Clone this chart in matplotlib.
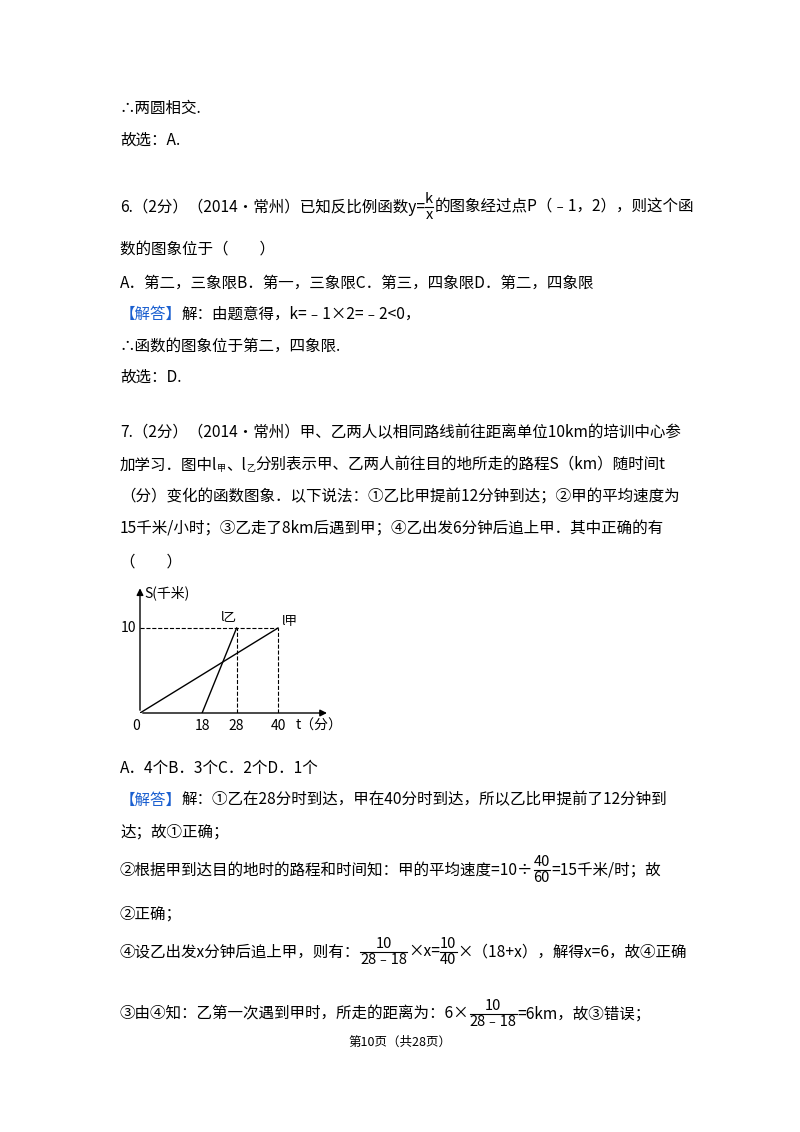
import matplotlib
matplotlib.use("Agg")
import matplotlib.pyplot as plt

plt.rcParams['font.family'] = ['Noto Sans CJK SC', 'DejaVu Sans']

# chart data
jia_t = [0, 40]; jia_s = [0, 10]
yi_t = [18, 28]; yi_s = [0, 10]
xticks = [18, 28, 40]
yticks = [10]

fig = plt.figure(figsize=(8, 11.32), dpi=100)
bg = fig.add_axes([0, 0, 1, 1])
bg.set_xlim(0, 800); bg.set_ylim(1132, 0); bg.axis('off')
fig.canvas.draw()
R = fig.canvas.get_renderer()
FS = 11.2
BLUE = '#1a5fd0'

def width(t, fs=FS):
    tt = bg.text(0, 0, t, fontsize=fs)
    w = tt.get_window_extent(R).width
    tt.remove()
    return w

def line(y, parts, x=120):
    for p in parts:
        if isinstance(p, tuple) and p[0] == 'frac':
            _, num, den = p
            fs = 10.5
            w = max(width(num, fs), width(den, fs))
            cx = x + w / 2
            bg.text(cx, y - 1, num, fontsize=fs, ha='center', va='bottom')
            bg.text(cx, y + 1, den, fontsize=fs, ha='center', va='top')
            bg.plot([x, x + w], [y, y], color='black', lw=0.8)
            x += w + 1
        elif isinstance(p, tuple) and p[0] == 'sub':
            bg.text(x, y + 4, p[1], fontsize=6.5, va='center')
            x += width(p[1], 6.5)
        else:
            col = 'black'
            if isinstance(p, tuple):
                p, col = p[1], p[0]
            bg.text(x, y, p, fontsize=FS, va='center', color=col)
            x += width(p)

line(108, ["∴两圆相交."])
line(140, ["故选：A."])
line(207, ["6.（2分）（2014•常州）已知反比例函数y=", ('frac', 'k', 'x'), "的图象经过点P（﹣1，2），则这个函"])
line(250, ["数的图象位于（　　）"])
line(283, ["A．第二，三象限B．第一，三象限C．第三，四象限D．第二，四象限"])
line(314, [(BLUE, "【解答】"), "解：由题意得，k=﹣1×2=﹣2<0，"])
line(346, ["∴函数的图象位于第二，四象限."])
line(377, ["故选：D."])
line(433, ["7.（2分）（2014•常州）甲、乙两人以相同路线前往距离单位10km的培训中心参"])
line(465, ["加学习．图中l", ('sub', "甲"), "、l", ('sub', "乙"), "分别表示甲、乙两人前往目的地所走的路程S（km）随时间t"])
line(497, ["（分）变化的函数图象．以下说法：①乙比甲提前12分钟到达；②甲的平均速度为"])
line(529, ["15千米/小时；③乙走了8km后遇到甲；④乙出发6分钟后追上甲．其中正确的有"])
line(562, ["（　　）"])
line(768, ["A．4个B．3个C．2个D．1个"])
line(800, [(BLUE, "【解答】"), "解：①乙在28分时到达，甲在40分时到达，所以乙比甲提前了12分钟到"])
line(832, ["达；故①正确；"])
line(870, ["②根据甲到达目的地时的路程和时间知：甲的平均速度=10÷", ('frac', '40', '60'), "=15千米/时；故"])
line(914, ["②正确；"])
line(952, ["④设乙出发x分钟后追上甲，则有：", ('frac', '10', '28﹣18'), "×x=", ('frac', '10', '40'), "×（18+x），解得x=6，故④正确"])
line(1014, ["③由④知：乙第一次遇到甲时，所走的距离为：6×", ('frac', '10', '28﹣18'), "=6km，故③错误；"])
bg.text(400, 1042, "第10页（共28页）", fontsize=9, ha='center', va='center')

# chart axes: origin at pixel (140,713)
x0, y0 = 140, 713
xmax, ymax = 55, 15
ax = fig.add_axes([x0 / 800, (1132 - y0) / 1132, xmax * 3.45 / 800, ymax * 8.5 / 1132])
ax.set_xlim(0, xmax); ax.set_ylim(0, ymax); ax.axis('off')
ax.annotate('', xy=(xmax, 0), xytext=(0, 0), arrowprops=dict(arrowstyle='-|>', lw=1, color='black'), annotation_clip=False)
ax.annotate('', xy=(0, ymax), xytext=(0, 0), arrowprops=dict(arrowstyle='-|>', lw=1, color='black'), annotation_clip=False)
ax.plot(jia_t, jia_s, color='black', lw=1)
ax.plot(yi_t, yi_s, color='black', lw=1)
ax.plot([0, jia_t[1]], [10, 10], ls='--', color='black', lw=0.8)
ax.plot([yi_t[1], yi_t[1]], [0, 10], ls='--', color='black', lw=0.8)
ax.plot([jia_t[1], jia_t[1]], [0, 10], ls='--', color='black', lw=0.8)
for t in xticks:
    ax.text(t, -0.7, str(t), ha='center', va='top', fontsize=10)
for s in yticks:
    ax.text(-1.2, s, str(s), ha='right', va='center', fontsize=10)
ax.text(-1, -0.7, '0', ha='center', va='top', fontsize=10)
ax.text(45, -0.7, 't（分）', ha='left', va='top', fontsize=10)
ax.text(1.2, 14.2, 'S(千米)', ha='left', va='center', fontsize=10)
ax.text(23.5, 10.6, 'l乙', ha='left', va='bottom', fontsize=9, style='italic')
ax.text(41, 10.0, 'l甲', ha='left', va='bottom', fontsize=9, style='italic')

fig.savefig('out.png', dpi=100)
